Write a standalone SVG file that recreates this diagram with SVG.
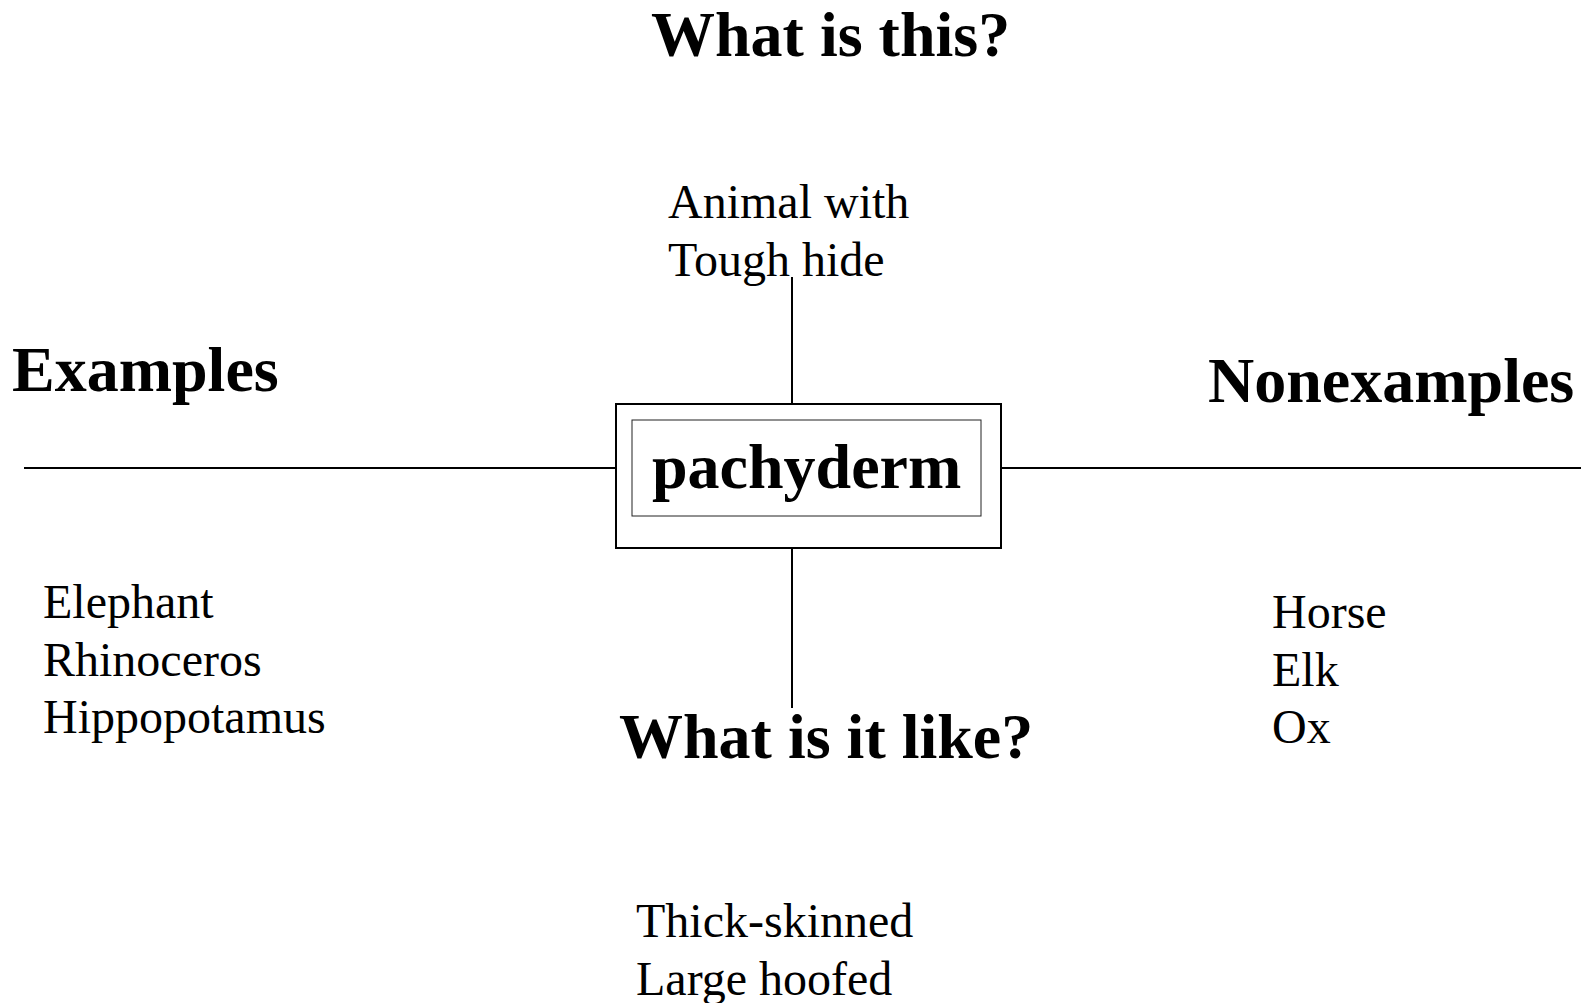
<svg xmlns="http://www.w3.org/2000/svg" width="1581" height="1003" viewBox="0 0 1581 1003">
<style>
.h{font-family:"Liberation Serif","Times New Roman",serif;font-weight:bold;font-size:64px;fill:#000}
.t{font-family:"Liberation Serif","Times New Roman",serif;font-size:48px;fill:#000}
.ln{stroke:#000;stroke-width:2;fill:none}
</style>
<rect width="1581" height="1003" fill="#fff"/>
<g id="connectors">
<line class="ln" x1="24" y1="468" x2="616" y2="468"/>
<line class="ln" x1="1001" y1="468" x2="1581" y2="468"/>
<line class="ln" x1="792" y1="277" x2="792" y2="404"/>
<line class="ln" x1="792" y1="548" x2="792" y2="708"/>
</g>
<g id="center">
<rect x="616" y="404" width="385" height="144" fill="none" stroke="#000" stroke-width="2"/>
<rect x="632" y="420" width="349" height="96" fill="none" stroke="#222" stroke-width="1"/>
<text class="h" x="652" y="488">pachyderm</text>
</g>
<g id="what-is-this">
<text class="h" x="651" y="56">What is this?</text>
<text class="t" x="668" y="218">Animal with</text>
<text class="t" x="668" y="276">Tough hide</text>
</g>
<g id="examples">
<text class="h" x="12" y="391">Examples</text>
<text class="t" x="43" y="618">Elephant</text>
<text class="t" x="43" y="676">Rhinoceros</text>
<text class="t" x="43" y="733">Hippopotamus</text>
</g>
<g id="nonexamples">
<text class="h" x="1208" y="402">Nonexamples</text>
<text class="t" x="1272" y="628">Horse</text>
<text class="t" x="1272" y="686">Elk</text>
<text class="t" x="1272" y="743">Ox</text>
</g>
<g id="what-is-it-like">
<text class="h" x="619" y="758">What is it like?</text>
<text class="t" x="636" y="937">Thick-skinned</text>
<text class="t" x="636" y="995">Large hoofed</text>
</g>
</svg>
